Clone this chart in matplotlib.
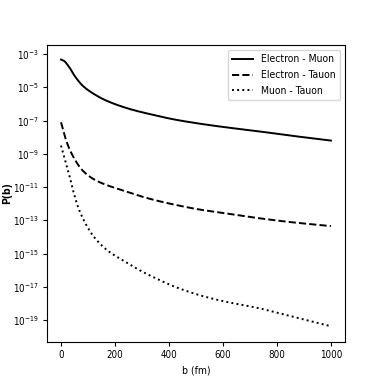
import numpy as np
import matplotlib
matplotlib.use("Agg")
import matplotlib.pyplot as plt
from matplotlib import font_manager as fm

# Values (b in fm, log10 P(b))
b_em = [0, 10, 31, 50, 80, 118, 168, 254, 340, 416, 500, 600, 726, 850, 1000]
logp_em = [-3.33, -3.4, -3.8, -4.3, -4.9, -5.36, -5.8, -6.3, -6.65, -6.92, -7.15, -7.38, -7.63, -7.9, -8.2]

b_et = [0, 19, 43, 80, 130, 229, 329, 420, 515, 600, 726, 850, 1000]
logp_et = [-7.1, -8.2, -9.1, -10.0, -10.6, -11.2, -11.7, -12.05, -12.35, -12.55, -12.85, -13.1, -13.34]

b_mt = [0, 19, 31, 43, 68, 118, 168, 229, 292, 354, 416, 515, 600, 726, 850, 1000]
logp_mt = [-8.5, -9.6, -10.3, -11.1, -12.4, -13.9, -14.75, -15.4, -16.0, -16.5, -16.95, -17.5, -17.85, -18.25, -18.75, -19.36]

labels = ["Electron - Muon", "Electron - Tauon", "Muon - Tauon"]
xticks = [0, 200, 400, 600, 800, 1000]

# prefer a condensed DejaVu if available
cond = [f for f in fm.fontManager.ttflist if f.name == "DejaVu Sans" and f.stretch == "condensed"]
if cond:
    plt.rcParams["font.stretch"] = "condensed"
    plt.rcParams["mathtext.fontset"] = "custom"
    plt.rcParams["mathtext.rm"] = "DejaVu Sans:stretch=condensed"
    plt.rcParams["mathtext.it"] = "DejaVu Sans:italic:stretch=condensed"
    plt.rcParams["mathtext.bf"] = "DejaVu Sans:bold:stretch=condensed"


def pchip(xk, yk, x):
    xk = np.asarray(xk, float)
    yk = np.asarray(yk, float)
    h = np.diff(xk)
    d = np.diff(yk) / h
    n = len(xk)
    m = np.zeros(n)
    for k in range(1, n - 1):
        if d[k - 1] * d[k] > 0:
            w1 = 2 * h[k] + h[k - 1]
            w2 = h[k] + 2 * h[k - 1]
            m[k] = (w1 + w2) / (w1 / d[k - 1] + w2 / d[k])
    m[0] = d[0]
    m[-1] = d[-1]
    idx = np.clip(np.searchsorted(xk, x) - 1, 0, n - 2)
    t = (x - xk[idx]) / h[idx]
    h00 = 2 * t**3 - 3 * t**2 + 1
    h10 = t**3 - 2 * t**2 + t
    h01 = -2 * t**3 + 3 * t**2
    h11 = t**3 - t**2
    return h00 * yk[idx] + h10 * h[idx] * m[idx] + h01 * yk[idx + 1] + h11 * h[idx] * m[idx + 1]


fig = plt.figure(figsize=(3.82, 3.82), dpi=100)
ax = fig.add_axes([0.123, 0.105, 0.780, 0.777])

styles = ["-", "--", ":"]
for bs, ls_, lab, st in zip([b_em, b_et, b_mt], [logp_em, logp_et, logp_mt], labels, styles):
    x = np.linspace(bs[0], bs[-1], 500)
    y = 10 ** pchip(bs, ls_, x)
    ax.plot(x, y, color="black", lw=1.4, ls=st, label=lab)

ax.set_yscale("log")
ax.set_ylim(10 ** -20.3, 10 ** -2.46)
ax.set_xlim(-52, 1052)
ax.set_xticks(xticks)
ax.set_yticks([10.0 ** e for e in range(-19, -2, 2)])
ax.yaxis.set_minor_locator(matplotlib.ticker.NullLocator())
ax.tick_params(labelsize=7, length=3, pad=3)
ax.set_xlabel("b (fm)", fontsize=7.5)
ax.set_ylabel("P(b)", fontsize=7.5, fontweight="bold")
ax.yaxis.set_label_coords(-0.118, 0.5)
ax.legend(loc="upper right", fontsize=7.5, handlelength=2.0, labelspacing=0.55)
for s in ax.spines.values():
    s.set_linewidth(0.8)

fig.savefig("out.png", dpi=100)
